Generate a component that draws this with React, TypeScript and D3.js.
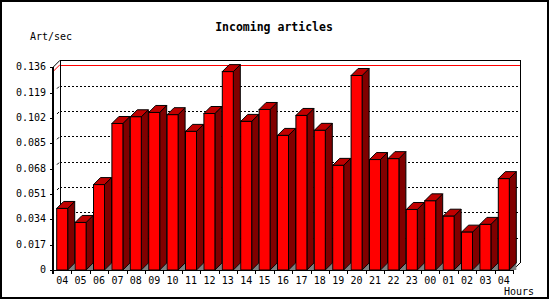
import React from "react";
import * as d3 from "d3";

const hours = ["04","05","06","07","08","09","10","11","12","13","14","15","16","17","18","19","20","21","22","23","00","01","02","03","04"];
const values = [0.0413,0.0319,0.0573,0.0983,0.1028,0.1057,0.1042,0.0930,0.1050,0.1331,0.0997,0.1077,0.0903,0.1037,0.0937,0.0702,0.1305,0.0741,0.0747,0.0406,0.0464,0.0361,0.0254,0.0306,0.0613];
const yTicks = [0, 0.017, 0.034, 0.051, 0.068, 0.085, 0.102, 0.119, 0.136];
const yTickLabels = ["0","0.017","0.034","0.051","0.068","0.085","0.102","0.119","0.136"];
const title = "Incoming articles";
const yTitle = "Art/sec";
const xTitle = "Hours";

export default function App() {
  const W = 550, H = 300;
  const x0 = 53, x1 = 513, base = 270, D = 7;
  const y = d3.scaleLinear().domain([0, 0.136]).range([base, 67.3]);
  const x = d3.scaleBand<number>().domain(d3.range(hours.length)).range([x0, x1]).paddingInner(0).paddingOuter(0);
  const bw = x.bandwidth();
  const faceW = 11;
  const faceOff = (bw - faceW) / 2;
  const top = y(0.136);
  const maxV = d3.max(values) as number;
  const font = "'DejaVu Sans Mono', monospace";

  return (
    <svg width={W} height={H} style={{ position: "absolute", left: 0, top: 0, background: "#fff" }} shapeRendering="crispEdges">
      <rect x={1} y={1} width={547} height={297} fill="#fff" stroke="#000" strokeWidth={2} />
      <text x={274} y={27} textAnchor="middle" dominantBaseline="middle" fontFamily={font} fontWeight="bold" fontSize={11.5}>{title}</text>
      <text x={30} y={37} dominantBaseline="middle" fontFamily={font} fontSize={10}>{yTitle}</text>

      {/* back wall gridlines */}
      {yTicks.slice(1, -1).map((t, i) => (
        <g key={"g" + i}>
          <line x1={x0 + D} x2={x1 + D} y1={Math.round(y(t) - D) + 0.5} y2={Math.round(y(t) - D) + 0.5} stroke="#000" strokeDasharray="2,2" />
          <line x1={x0 + 4} y1={y(t) - 4} x2={x0 + D - 1} y2={y(t) - D + 1} stroke="#000" shapeRendering="auto" />
        </g>
      ))}
      {/* max red line */}
      <line x1={x0 + D} x2={x1 + D} y1={Math.round(y(maxV) - D) + 0.5} y2={Math.round(y(maxV) - D) + 0.5} stroke="#ff0000" />
      <line x1={x0} y1={y(maxV)} x2={x0 + D} y2={y(maxV) - D} stroke="#ff0000" shapeRendering="auto" />

      {/* back wall edges */}
      <line x1={x0 + D + 0.5} x2={x0 + D + 0.5} y1={top - D} y2={base - D} stroke="#000" />
      <line x1={x0 + D} x2={x1 + D} y1={Math.round(top - D) + 0.5} y2={Math.round(top - D) + 0.5} stroke="#000" />
      <line x1={x1 + D + 0.5} x2={x1 + D + 0.5} y1={top - D} y2={base - D} stroke="#000" />
      <line x1={x0} y1={top} x2={x0 + D} y2={top - D} stroke="#000" shapeRendering="auto" />
      <line x1={x1} y1={base} x2={x1 + D} y2={base - D} stroke="#000" shapeRendering="auto" />

      {/* bars */}
      {values.map((v, i) => {
        const l = (x(i) as number) + faceOff;
        const r = l + faceW;
        const t = y(v);
        return (
          <g key={"b" + i} shapeRendering="auto">
            <polygon points={`${r},${base} ${r + D},${base - D} ${r + D},${base}`} fill="#808080" />
            <polygon points={`${r},${t} ${r + D},${t - D} ${r + D},${base - D} ${r},${base}`} fill="#800000" stroke="#000" strokeWidth={1} />
            <polygon points={`${l},${t} ${l + D},${t - D} ${r + D},${t - D} ${r},${t}`} fill="#c00000" stroke="#000" strokeWidth={1} />
            <rect x={l} y={t} width={faceW} height={base - t} fill="#ff0000" stroke="#000" strokeWidth={1} />
          </g>
        );
      })}

      {/* front axes */}
      <line x1={x0} x2={x0} y1={top} y2={base + 4} stroke="#000" strokeWidth={2} />
      <line x1={x0} x2={x1} y1={base + 0.5} y2={base + 0.5} stroke="#000" />
      {yTicks.map((t, i) => (
        <g key={"yt" + i}>
          <line x1={x0 - 3} x2={x0} y1={Math.round(y(t)) + 0.5} y2={Math.round(y(t)) + 0.5} stroke="#000" />
          <text x={46} y={y(t)} textAnchor="end" dominantBaseline="middle" fontFamily={font} fontSize={10}>{yTickLabels[i]}</text>
        </g>
      ))}
      {d3.range(hours.length + 1).map((k) => {
        const xx = Math.round(x0 + k * bw) + 0.5;
        return <line key={"xt" + k} x1={xx} x2={xx} y1={base} y2={base + 4} stroke="#000" />;
      })}
      {hours.map((h, i) => (
        <text key={"xl" + i} x={(x(i) as number) + bw / 2} y={281} textAnchor="middle" dominantBaseline="middle" fontFamily={font} fontSize={10}>{h}</text>
      ))}
      <text x={504} y={292} dominantBaseline="middle" fontFamily={font} fontSize={10}>{xTitle}</text>
    </svg>
  );
}
